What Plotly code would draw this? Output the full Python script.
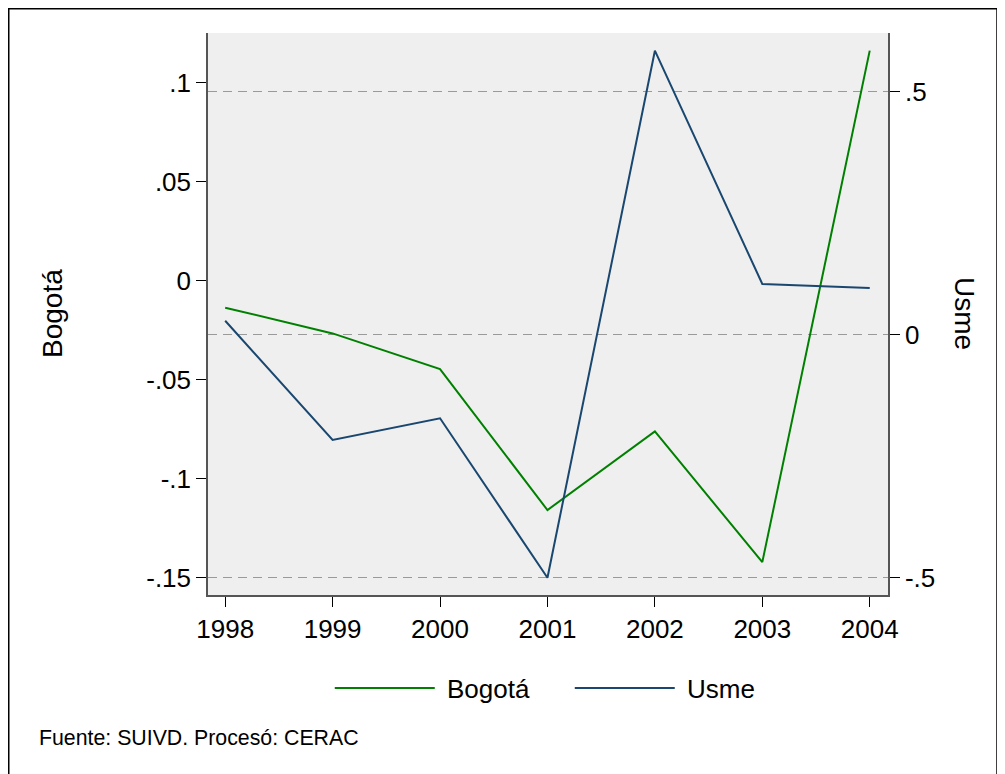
import plotly.graph_objects as go

years = [1998, 1999, 2000, 2001, 2002, 2003, 2004]
bogota = [-0.0136, -0.0266, -0.0446, -0.1158, -0.0761, -0.1421, 0.1162]
usme = [0.0288, -0.2167, -0.172, -0.5, 0.5844, 0.1043, 0.0961]

left_ticks = [-0.15, -0.1, -0.05, 0, 0.05, 0.1]
left_labels = ["-.15", "-.1", "-.05", "0", ".05", ".1"]
right_ticks = [-0.5, 0, 0.5]
right_labels = ["-.5", "0", ".5"]

FONT = "Liberation Sans, Arial, sans-serif"

fig = go.Figure()
fig.add_trace(go.Scatter(x=years, y=bogota, mode="lines", name="\u00a0Bogotá",
                         line=dict(color="#008000", width=2), yaxis="y"))
fig.add_trace(go.Scatter(x=years, y=usme, mode="lines", name="\u00a0Usme",
                         line=dict(color="#1a476f", width=2), yaxis="y2"))

axis_common = dict(showline=True, linecolor="#555555", linewidth=1.5,
                   ticks="outside", ticklen=10, tickwidth=1, tickcolor="black",
                   zeroline=False, tickfont=dict(size=26, color="black"))

fig.update_layout(
    width=997, height=766,
    margin=dict(l=200, r=117, t=25, b=179),
    paper_bgcolor="white", plot_bgcolor="#efefef",
    font=dict(family=FONT, color="black"),
    xaxis=dict(range=[1997.84, 2004.17], tickvals=years, showgrid=False, **axis_common),
    yaxis=dict(range=[-0.1587, 0.1251], tickvals=left_ticks, ticktext=left_labels,
               showgrid=False, **axis_common),
    yaxis2=dict(range=[-0.5356, 0.6208], tickvals=right_ticks, ticktext=right_labels,
                overlaying="y", side="right", showgrid=True, gridcolor="#9a9a9a",
                gridwidth=1.3, griddash="9px,6px", **axis_common),
    legend=dict(orientation="h", x=0.532, xanchor="center", y=-0.1655, yanchor="middle",
                font=dict(size=26), itemwidth=100, entrywidth=125,
                entrywidthmode="pixels", bgcolor="rgba(0,0,0,0)"),
    showlegend=True,
)

fig.add_annotation(text="Bogotá", xref="paper", yref="paper", x=-0.2294, y=0.5,
                   xanchor="center", yanchor="middle",
                   textangle=-90, showarrow=False, font=dict(size=28))
fig.add_annotation(text="Usme", xref="paper", yref="paper", x=1.1132, y=0.5,
                   xanchor="center", yanchor="middle",
                   textangle=90, showarrow=False, font=dict(size=28))
fig.add_annotation(text="Fuente: SUIVD. Procesó: CERAC", xref="paper", yref="paper",
                   x=-0.251, y=-0.2544, xanchor="left", yanchor="middle",
                   showarrow=False, font=dict(size=21.3))

# outer graph border (bottom edge falls just outside the visible page)
fig.add_shape(type="rect", xref="paper", yref="paper",
              x0=-0.2930, x1=1.1603, y0=-0.34, y1=1.0432,
              line=dict(color="black", width=1.5))

fig.write_html("out.html")
